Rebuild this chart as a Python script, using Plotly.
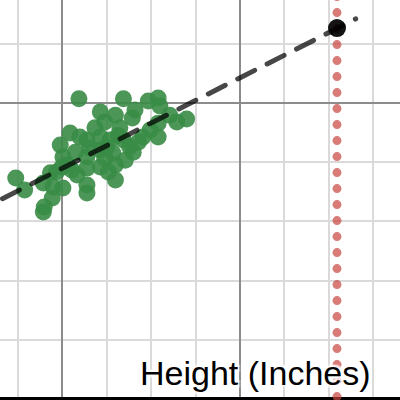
import plotly.graph_objects as go

# Sample data: height (inches) vs weight
height = [61.9, 66.9, 69.7, 70.8, 71.0, 64.3, 66.0, 68.2, 67.9, 64.8,
          70.8, 72.9, 74.0, 70.8, 69.1, 66.5, 60.9, 62.0, 62.8, 64.3,
          65.4, 66.9, 67.6, 68.0, 59.8, 60.1, 61.5, 62.8, 64.3, 65.7,
          66.0, 64.3, 62.8, 61.1, 60.0, 58.7, 57.9, 59.0, 60.1, 61.7,
          62.8, 62.8, 66.0, 54.8, 55.8, 65.2, 58.9, 57.9, 58.0, 59.4,
          60.6, 63.7, 69.9, 72.1, 63.1, 67.1, 64.8, 66.3, 68.6, 65.0]
weight = [101.4, 101.4, 100.7, 101.7, 99.0, 97.0, 95.9, 97.6, 94.9, 93.6,
          93.2, 93.6, 94.6, 88.5, 88.5, 91.6, 89.9, 88.5, 87.5, 88.5,
          87.5, 87.5, 85.1, 83.4, 85.8, 81.8, 83.4, 81.8, 84.1, 83.1,
          79.1, 78.4, 78.0, 77.4, 78.4, 76.4, 73.0, 71.6, 71.3, 75.7,
          72.3, 69.6, 74.0, 74.7, 70.6, 76.7, 67.9, 63.2, 64.9, 76.7,
          79.1, 91.6, 90.9, 95.9, 84.8, 80.7, 81.4, 89.0, 86.8, 85.0]

# Regression line end points and the prediction point
fit_x = [50.0, 93.0]
fit_y = [62.6, 128.4]
pred_x = [90.9]
pred_y = [125.3]

# Vertical guide at the predicted height
guide_x = [90.9, 90.9]
guide_y = [-10, 140]

fig = go.Figure()

fig.add_trace(go.Scatter(
    x=guide_x, y=guide_y,
    mode='lines',
    line=dict(color='rgba(199,68,64,0.7)', width=9, dash='0px,16px'),
    hoverinfo='skip'
))

fig.add_trace(go.Scatter(
    x=height, y=weight,
    mode='markers',
    marker=dict(size=17, color='rgba(56,140,70,0.9)', line=dict(width=0)),
    name='data'
))

fig.add_trace(go.Scatter(
    x=fit_x, y=fit_y,
    mode='lines',
    line=dict(color='rgba(0,0,0,0.72)', width=5, dash='19px,14px'),
    name='fit'
))

fig.add_trace(go.Scatter(
    x=pred_x, y=pred_y,
    mode='markers',
    marker=dict(size=18, color='rgba(0,0,0,0.92)', line=dict(width=0)),
    name='prediction'
))

fig.add_annotation(
    text='Height (Inches)',
    xref='paper', yref='paper',
    x=0.9325, y=0.0675,
    xanchor='right', yanchor='middle',
    showarrow=False,
    font=dict(family='Liberation Sans, Arial', size=34, color='black',
              shadow='2px 2px 2px white, -2px -2px 2px white, 2px -2px 2px white, -2px 2px 2px white')
)

fig.update_layout(
    width=400,
    height=400,
    margin=dict(l=0, r=0, t=0, b=0),
    plot_bgcolor='white',
    paper_bgcolor='white',
    showlegend=False,
    xaxis=dict(
        range=[53.03, 97.98],
        dtick=20, tick0=0,
        showgrid=True, gridcolor='#8c8c8c', gridwidth=2,
        minor=dict(dtick=5, tick0=0, showgrid=True, gridcolor='#dadada', gridwidth=2),
        showticklabels=False, ticks='',
        zeroline=False
    ),
    yaxis=dict(
        range=[-0.34, 134.8],
        dtick=100, tick0=0,
        showgrid=True, gridcolor='#8c8c8c', gridwidth=2,
        minor=dict(dtick=20, tick0=0, showgrid=True, gridcolor='#dadada', gridwidth=2),
        showticklabels=False, ticks='',
        zeroline=True, zerolinecolor='black', zerolinewidth=3
    )
)

# no page margin, and round line caps for the dotted / dashed look
fig.write_html(
    "out.html",
    config=dict(displayModeBar=False),
    post_script=(
        "document.body.style.margin='0';"
        "document.querySelectorAll('.js-line').forEach(function(p){p.style.strokeLinecap='round';});"
    )
)
